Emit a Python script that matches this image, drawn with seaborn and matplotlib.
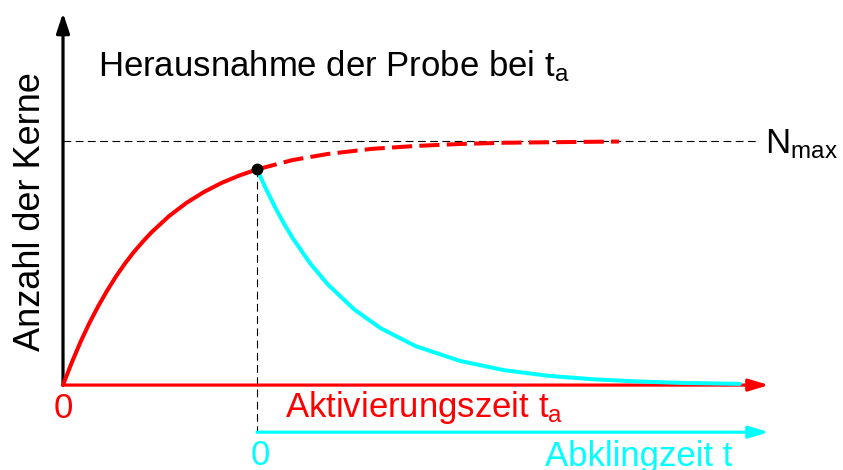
import matplotlib
matplotlib.use("Agg")
import matplotlib.pyplot as plt
import seaborn as sns

# activation curve (solid part, up to removal at t_a)
rise_t = [0, 0.1, 0.2, 0.3, 0.4, 0.5, 0.6, 0.7, 0.8, 0.9, 1.0, 1.2, 1.4, 1.6, 1.8, 2.0, 2.2]
rise_n = [0, 0.093, 0.178, 0.255, 0.324, 0.387, 0.445, 0.497, 0.544, 0.586, 0.625,
          0.692, 0.747, 0.792, 0.829, 0.859, 0.884]

# hypothetical continuation of the activation (dashed)
sat_t = [2.2, 2.6, 3.0, 3.5, 4.0, 4.5, 5.0, 5.5, 6.0, 6.3]
sat_n = [0.884, 0.922, 0.947, 0.968, 0.980, 0.988, 0.993, 0.995, 0.997, 0.998]

# decay after removal, t measured from t_a
decay_t = [0, 0.1, 0.2, 0.3, 0.4, 0.6, 0.8, 1.1, 1.4, 1.8, 2.3, 2.8, 3.3, 3.8, 4.3, 4.8, 5.47]
decay_n = [0.884, 0.804, 0.731, 0.664, 0.604, 0.499, 0.413, 0.310, 0.233, 0.159, 0.099,
           0.061, 0.038, 0.024, 0.015, 0.009, 0.005]

T_A = 2.2
N_MAX = 1.0

RED = "#ff0000"
CYAN = "#00ffff"

sns.set_theme(style="white")
plt.rcParams["font.family"] = ["Liberation Sans", "DejaVu Sans"]
plt.rcParams["text.color"] = "black"
plt.rcParams["mathtext.fontset"] = "custom"
plt.rcParams["mathtext.rm"] = "Liberation Sans"
plt.rcParams["mathtext.it"] = "Liberation Sans"

fig = plt.figure(figsize=(8.43, 4.70), dpi=100)
ax = fig.add_axes([0, 0, 1, 1])
ax.set_xlim(-0.714, 8.839)
ax.set_ylim(-0.348, 1.578)
ax.axis("off")

# guide lines
thin_dash = (0, (7, 4))
ax.plot([0, 7.86], [N_MAX, N_MAX], color="black", lw=0.8, linestyle=thin_dash, zorder=1)
ax.plot([T_A, T_A], [rise_n[-1], -0.193], color="black", lw=0.8, linestyle=thin_dash, zorder=1)

# axes with arrows
def arrow(x0, y0, x1, y1, color, hw):
    ax.annotate("", xy=(x1, y1), xytext=(x0, y0),
                arrowprops=dict(arrowstyle=f"-|>,head_length=1.0,head_width={hw}",
                                mutation_scale=12, lw=2.3, color=color,
                                shrinkA=0, shrinkB=0), zorder=2)

arrow(0, 0, 0, 1.525, "black", 0.33)
arrow(0, 0, 8.0, 0, RED, 0.3)
arrow(T_A, -0.193, 8.0, -0.193, CYAN, 0.3)

# curves
sns.lineplot(x=rise_t, y=rise_n, ax=ax, color=RED, lw=2.9, zorder=3)
sns.lineplot(x=sat_t, y=sat_n, ax=ax, color=RED, lw=2.9, linestyle=(0, (5, 1.8)), zorder=3)
sns.lineplot(x=[T_A + t for t in decay_t], y=decay_n, ax=ax, color=CYAN, lw=2.9, zorder=4)
ax.plot([T_A], [rise_n[-1]], "o", color="black", markersize=7.5, zorder=5)

# labels
fs = 25
ax.text(0.40, 1.266, r"Herausnahme der Probe bei t$_{a}$", fontsize=fs, va="baseline", ha="left")
ax.text(-0.374, 0.709, "Anzahl der Kerne", fontsize=26, rotation=90, va="center", ha="center")
ax.text(7.955, 0.951, r"N$_{max}$", fontsize=fs, va="baseline", ha="left")
ax.text(0, -0.135, "0", fontsize=fs, color=RED, va="baseline", ha="center")
ax.text(2.516, -0.131, r"Aktivierungszeit t$_{a}$", fontsize=fs, color=RED, va="baseline", ha="left")
ax.text(2.232, -0.328, "0", fontsize=fs, color=CYAN, va="baseline", ha="center")
ax.text(5.462, -0.332, "Abklingzeit t", fontsize=fs, color=CYAN, va="baseline", ha="left")

fig.savefig("out.png", dpi=100)
